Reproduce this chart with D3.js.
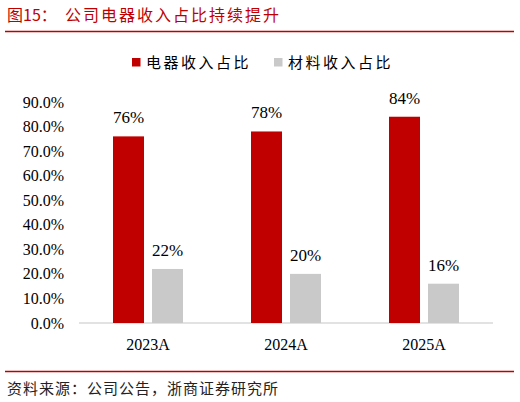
<!DOCTYPE html>
<html>
<head>
<meta charset="utf-8">
<script src="https://cdn.jsdelivr.net/npm/d3@7"></script>
<style>
  body { margin: 0; background: #fff; }
  svg { display: block; }
</style>
</head>
<body>
<div id="chart"></div>
<script>
const YEARS = ["2023A", "2024A", "2025A"];
const SERIES = ["电器收入占比", "材料收入占比"];
const APPLIANCE_SHARE = [76, 78, 84];
const MATERIAL_SHARE = [22, 20, 16];
const Y_TICKS = [0, 10, 20, 30, 40, 50, 60, 70, 80, 90];

const COLORS = ["#c00000", "#c9c9c9"];
const SERIF = "'Liberation Serif', 'Times New Roman', serif";
const CJK = "'Noto Sans CJK SC', sans-serif";

const width = 520, height = 402;
const margins = { top: 102, right: 27, bottom: 79, left: 79 };
const innerWidth = width - margins.left - margins.right;
const innerHeight = height - margins.top - margins.bottom;

const svg = d3.select("#chart").append("svg")
  .attr("width", width)
  .attr("height", height);

// Title + rule
const title = svg.append("text")
  .attr("x", 7).attr("y", 21)
  .attr("fill", "#c00000")
  .attr("font-size", "16px")
  .attr("font-family", CJK);
title.append("tspan").text("图15：");
title.append("tspan").attr("x", 65).attr("letter-spacing", "2px").text("公司电器收入占比持续提升");

svg.append("line")
  .attr("x1", 5).attr("x2", 514).attr("y1", 31.5).attr("y2", 31.5)
  .attr("stroke", "#c00000").attr("stroke-width", 1.3);

// Source + rule
svg.append("line")
  .attr("x1", 5).attr("x2", 514).attr("y1", 371.5).attr("y2", 371.5)
  .attr("stroke", "#c00000").attr("stroke-width", 1.3);

svg.append("text")
  .attr("x", 7).attr("y", 394)
  .attr("fill", "#222")
  .attr("font-size", "15px")
  .attr("letter-spacing", "1px")
  .attr("font-family", CJK)
  .text("资料来源：公司公告，浙商证券研究所");

const g = svg.append("g")
  .attr("transform", `translate(${margins.left},${margins.top})`);

// Scales
const x0 = d3.scaleBand().domain(YEARS).range([0, innerWidth]).padding(0);
const y = d3.scaleLinear().domain([0, 90]).range([innerHeight, 0]);

const barWidth = 31, barGap = 8;
const offsets = [-barGap / 2 - barWidth, barGap / 2];

// Y tick labels (no axis line in the reference)
g.append("g").attr("class", "y-labels")
  .selectAll("text")
  .data(Y_TICKS)
  .join("text")
  .attr("x", -15)
  .attr("y", d => y(d) + 5.5)
  .attr("text-anchor", "end")
  .attr("font-family", SERIF)
  .attr("font-size", "16px")
  .attr("fill", "#000")
  .text(d => d3.format(".1f")(d) + "%");

// X baseline + category labels
g.append("line")
  .attr("x1", 0).attr("x2", innerWidth)
  .attr("y1", y(0)).attr("y2", y(0))
  .attr("stroke", "#d9d9d9").attr("stroke-width", 1.3);

g.append("g").attr("class", "x-labels")
  .selectAll("text")
  .data(YEARS)
  .join("text")
  .attr("x", d => x0(d) + x0.bandwidth() / 2)
  .attr("y", innerHeight + 27)
  .attr("text-anchor", "middle")
  .attr("font-family", SERIF)
  .attr("font-size", "16px")
  .attr("fill", "#000")
  .text(d => d);

// Bars
const seriesData = [APPLIANCE_SHARE, MATERIAL_SHARE];
seriesData.forEach((vals, si) => {
  const sg = g.append("g");
  sg.selectAll("rect")
    .data(vals)
    .join("rect")
    .attr("x", (d, i) => x0(YEARS[i]) + x0.bandwidth() / 2 + offsets[si])
    .attr("y", d => y(d))
    .attr("width", barWidth)
    .attr("height", d => y(0) - y(d))
    .attr("fill", COLORS[si]);

  sg.selectAll("text")
    .data(vals)
    .join("text")
    .attr("x", (d, i) => x0(YEARS[i]) + x0.bandwidth() / 2 + offsets[si] + barWidth / 2)
    .attr("y", d => y(d) - 13)
    .attr("text-anchor", "middle")
    .attr("font-family", SERIF)
    .attr("font-size", "17px")
    .attr("fill", "#000")
    .text(d => d + "%");
});

// Legend
const legendItems = [{ x: 132, label: SERIES[0], color: COLORS[0] }, { x: 274, label: SERIES[1], color: COLORS[1] }];
legendItems.forEach(item => {
  const lg = svg.append("g").attr("transform", `translate(${item.x},58)`);
  lg.append("rect").attr("width", 8.5).attr("height", 8.5).attr("fill", item.color);
  lg.append("text")
    .attr("x", 14).attr("y", 10)
    .attr("font-family", CJK)
    .attr("font-size", "15px")
    .attr("letter-spacing", "2.5px")
    .attr("fill", "#000")
    .text(item.label);
});
</script>
</body>
</html>
